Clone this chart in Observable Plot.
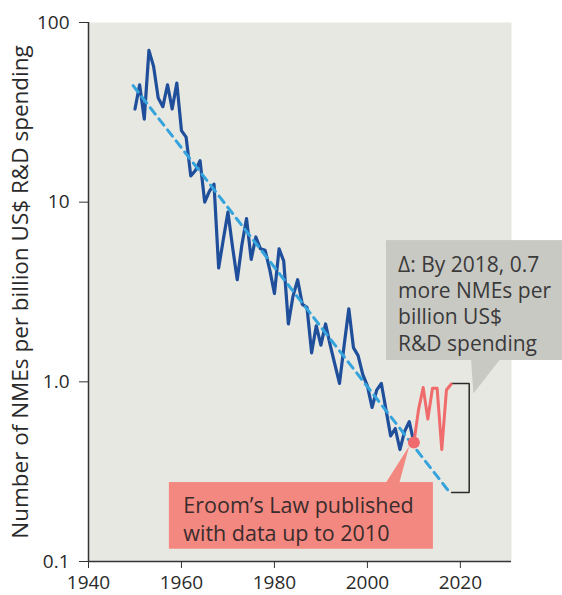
<!DOCTYPE html>
<html>
<head>
<meta charset="utf-8">
<script src="https://cdn.jsdelivr.net/npm/d3@7"></script>
<script src="https://cdn.jsdelivr.net/npm/@observablehq/plot@0.6"></script>
<style>
  html, body { margin: 0; padding: 0; background: #fff; }
  #chart { width: 562px; height: 595px; }
</style>
</head>
<body>
<div id="chart"></div>
<script>
// ---- Data ----
const blueYears = d3.range(1950, 2011);
const blueValues = [
  33, 45, 29, 70, 57, 38, 34, 45, 33, 46,      // 1950-1959
  25, 23, 14, 15, 17, 10, 11.5, 12.6, 4.3, 6.2, // 1960-1969
  8.8, 5.6, 3.7, 5.8, 8.1, 4.8, 6.4, 5.5, 5.4, 4.2, // 1970-1979
  3.1, 5.5, 4.7, 2.1, 3.0, 3.7, 2.7, 2.6, 1.45, 2.05, // 1980-1989
  1.6, 2.1, 1.6, 1.25, 0.98, 1.6, 2.55, 1.55, 1.4, 1.1, // 1990-1999
  0.95, 0.72, 0.9, 0.98, 0.7, 0.5, 0.55, 0.42, 0.53, 0.6, // 2000-2009
  0.46 // 2010
];
const redYears = [2010, 2011, 2012, 2013, 2014, 2015, 2016, 2017, 2018];
const redValues = [0.46, 0.70, 0.93, 0.62, 0.92, 0.92, 0.42, 0.90, 0.97];
const trendYears = [1949.6, 2017.3];
const trendValues = [44.5, 0.25];
const publishedYear = 2010;
const publishedValue = 0.46;

const xTicks = [1940, 1960, 1980, 2000, 2020];
const yTicks = [0.1, 1, 10, 100];
const yTickLabels = ["0.1", "1.0", "10", "100"];
const yLabel = "Number of NMEs per billion US$ R&D spending";

// annotations (data coordinates)
const redNoteText = "Eroom\u2019s Law published\nwith data up to 2010";
const grayNoteText = "\u0394: By 2018, 0.7\nmore NMEs per\nbillion US$\nR&D spending";
const redBox = [{x1: 1957.4, x2: 2014.2, y1: 0.117, y2: 0.275}];
const redPointer = [{x: 2003.8, y: 0.27}, {x: 2006.8, y: 0.27}, {x: 2009.0, y: 0.44}];
const grayBox = [{x1: 2004.1, x2: 2045, y1: 1.314, y2: 6.11}];
const grayPointer = [{x: 2022.3, y: 1.33}, {x: 2028.5, y: 1.33}, {x: 2022.8, y: 0.86}];
const bracket = [{x: 2018.1, y: 0.98}, {x: 2021.9, y: 0.98}, {x: 2021.9, y: 0.242}, {x: 2018.1, y: 0.242}];

// ---- Build tables ----
const blue = blueYears.map((year, i) => ({year, value: blueValues[i]}));
const red = redYears.map((year, i) => ({year, value: redValues[i]}));
const trend = trendYears.map((year, i) => ({year, value: trendValues[i]}));

const chart = Plot.plot({
  width: 562,
  height: 595,
  marginLeft: 88,
  marginRight: 51,
  marginTop: 22,
  marginBottom: 34,
  style: {fontFamily: "'Open Sans', Lato, sans-serif", fontSize: "18px", color: "#2a2a2a", background: "#fff", overflow: "visible"},
  x: {domain: [1940, 2031]},
  y: {type: "log", domain: [0.1, 100]},
  marks: [
    Plot.frame({fill: "#e8e8e3", stroke: null}),
    // annotation boxes
    Plot.rect(grayBox, {x1: "x1", x2: "x2", y1: "y1", y2: "y2", fill: "#c9c9c4"}),
    Plot.line(grayPointer, {x: "x", y: "y", fill: "#c9c9c4", stroke: null}),
    Plot.rect(redBox, {x1: "x1", x2: "x2", y1: "y1", y2: "y2", fill: "#f38880"}),
    Plot.line(redPointer, {x: "x", y: "y", fill: "#f38880", stroke: null}),
    Plot.line(bracket, {x: "x", y: "y", stroke: "#2a2a2a", strokeWidth: 1.5, strokeLinejoin: "miter"}),
    // axes
    Plot.axisX({ticks: xTicks, tickFormat: d => String(d), tickSize: 7, tickPadding: 7, fontSize: 19, label: null, stroke: "#333"}),
    Plot.axisY({ticks: yTicks, tickFormat: d => yTickLabels[yTicks.indexOf(d)], tickSize: 9, tickPadding: 10, fontSize: 19, label: null, stroke: "#333"}),
    Plot.ruleX([1940], {stroke: "#333", strokeWidth: 1.5}),
    Plot.ruleY([0.1], {stroke: "#333", strokeWidth: 1.5}),
    Plot.text([yLabel], {frameAnchor: "left", textAnchor: "middle", rotate: -90, dx: -68, fontSize: 22.5, fill: "#2a2a2a"}),
    // data
    Plot.line(blue, {x: "year", y: "value", stroke: "#1f4e9b", strokeWidth: 3.2}),
    Plot.line(trend, {x: "year", y: "value", stroke: "#35a4dc", strokeWidth: 3, strokeDasharray: "8,6"}),
    Plot.line(red, {x: "year", y: "value", stroke: "#f06b6b", strokeWidth: 3}),
    Plot.dot([{year: publishedYear, value: publishedValue}], {x: "year", y: "value", r: 6, fill: "#f06b6e", stroke: null}),
    // annotation texts
    Plot.text([redNoteText], {x: 1960.4, y: 0.175, textAnchor: "start", lineAnchor: "middle", fontSize: 21.5, lineHeight: 1.3, fill: "#3a2c2c"}),
    Plot.text([grayNoteText], {x: 2006.6, y: 2.75, textAnchor: "start", lineAnchor: "middle", fontSize: 21, lineHeight: 1.25, fill: "#3a3a3a"})
  ]
});
document.getElementById("chart").appendChild(chart);
</script>
</body>
</html>
